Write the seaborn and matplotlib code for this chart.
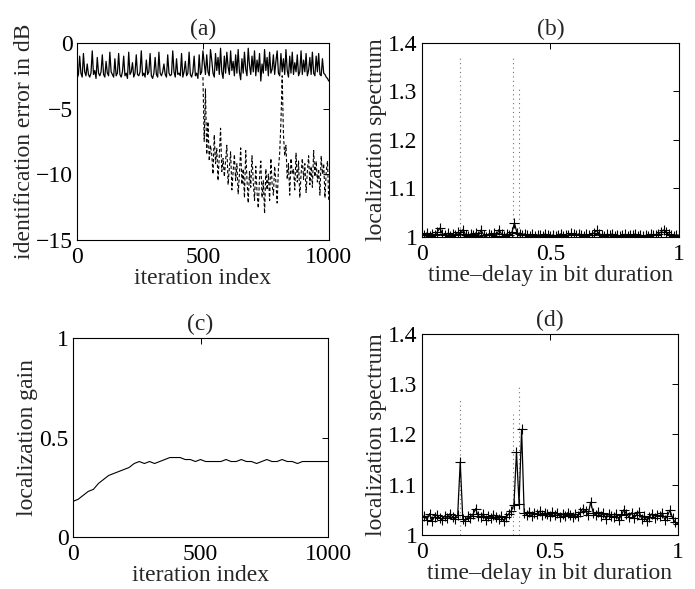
import numpy as np
import pandas as pd
import matplotlib
matplotlib.use("Agg")
import matplotlib.pyplot as plt
import seaborn as sns

# ---------------- data ----------------
# (a) identification error in dB, iterations 0..1000 step 5
iter_a = list(range(0, 1001, 5))
err_solid = [-2.7,-2.4,-1.0,-2.3,-2.6,-0.8,-2.2,-2.5,-1.6,-2.4,
             -2.6,-2.3,-0.6,-2.4,-2.1,-2.7,-1.1,-2.3,-2.5,-2.2,
             -0.9,-2.4,-2.6,-1.4,-2.3,-2.5,-0.7,-2.2,-2.4,-2.6,
             -1.2,-2.5,-2.3,-0.8,-2.4,-2.6,-2.2,-1.0,-2.5,-2.3,
             -2.7,-0.7,-2.4,-2.2,-1.5,-2.6,-2.3,-0.9,-2.4,-2.5,
             -2.2,-0.6,-2.5,-2.3,-2.6,-1.3,-2.4,-2.2,-0.8,-2.5,
             -2.7,-2.3,-1.1,-2.4,-2.6,-0.7,-2.3,-2.5,-2.2,-1.6,
             -2.4,-2.6,-0.9,-2.3,-2.5,-2.4,-0.6,-2.2,-2.6,-1.2,
             -2.4,-2.3,-2.5,-0.8,-2.6,-2.2,-1.4,-2.5,-2.3,-0.7,
             -2.4,-2.6,-2.2,-1.0,-2.5,-2.3,-2.7,-0.9,-2.4,-2.2,
             -0.6,-1.5,-2.4,-0.9,-2.2,-2.5,-0.5,-1.3,-2.3,-2.6,
             -0.8,-2.1,-1.1,-2.4,-0.4,-2.2,-2.7,-1.0,-2.3,-0.7,
             -1.8,-2.4,-0.6,-2.1,-1.4,-2.5,-0.9,-2.3,-0.5,-2.2,
             -2.8,-1.2,-2.3,-0.7,-2.0,-2.5,-0.4,-1.7,-2.4,-1.0,
             -2.2,-0.6,-2.5,-1.3,-2.2,-0.8,-2.9,-1.6,-2.3,-0.5,
             -2.1,-1.1,-2.5,-0.7,-2.3,-2.0,-0.9,-2.4,-1.4,-0.6,
             -2.3,-2.5,-0.8,-2.2,-1.2,-2.4,-0.5,-2.1,-2.6,-1.0,
             -2.3,-0.7,-2.4,-1.5,-2.2,-0.9,-2.5,-2.2,-0.6,-2.4,
             -1.3,-2.2,-0.8,-2.5,-2.1,-1.1,-2.4,-0.7,-2.3,-2.5,
             -1.0,-2.2,-0.8,-2.4,-2.5,-1.2,-2.3,-2.4,-2.6,-2.7,
             -2.9]
iter_b = list(range(500, 1001, 5))
err_dashed = [-2.6,-7.5,-3.5,-8.5,-6.0,-9.0,-7.8,-8.5,-10.0,-7.0,
              -9.2,-8.0,-10.5,-8.6,-6.5,-9.8,-8.8,-10.2,-9.0,-7.8,
              -10.8,-9.5,-8.3,-11.2,-9.8,-8.5,-10.5,-9.2,-11.5,-10.0,
              -8.0,-10.8,-9.6,-11.8,-8.2,-10.4,-12.2,-9.8,-11.0,-8.6,
              -10.6,-12.0,-9.4,-11.4,-12.6,-10.2,-9.0,-11.8,-10.5,-13.0,
              -9.6,-11.2,-10.0,-12.0,-8.8,-10.8,-11.6,-9.4,-10.6,-12.2,
              -9.6,-8.4,-6.0,-2.5,-7.0,-8.6,-7.8,-10.4,-9.2,-11.6,
              -8.8,-10.0,-9.6,-11.2,-8.4,-10.6,-9.0,-11.8,-10.0,-8.8,
              -10.4,-9.2,-11.4,-9.8,-8.6,-10.8,-9.4,-11.0,-8.2,-10.2,
              -9.0,-10.6,-9.6,-11.6,-8.6,-10.0,-9.2,-11.8,-9.8,-9.0,
              -12.0]

# (c) localization gain, iterations 0..1000 step 20
iter_c = list(range(0, 1001, 20))
gain = [0.18,0.19,0.21,0.23,0.24,0.27,0.29,0.31,0.32,0.33,
        0.34,0.35,0.37,0.38,0.37,0.38,0.37,0.38,0.39,0.40,
        0.40,0.40,0.39,0.39,0.38,0.39,0.38,0.38,0.38,0.38,
        0.39,0.38,0.38,0.39,0.38,0.38,0.37,0.38,0.39,0.38,
        0.38,0.39,0.38,0.38,0.37,0.38,0.38,0.38,0.38,0.38,
        0.38]

# (b),(d) localization spectrum vs time-delay, 0..1 step 0.01
delay = [round(i * 0.01, 2) for i in range(101)]
spec_b = [1.005,1.003,1.008,1.002,1.006,1.004,1.010,1.018,1.006,1.003,
          1.007,1.002,1.005,1.004,1.009,1.006,1.015,1.004,1.001,1.006,
          1.003,1.008,1.002,1.014,1.004,1.000,1.006,1.003,1.007,1.002,
          1.015,1.005,1.001,1.006,1.004,1.009,1.028,1.008,1.006,1.004,
          1.006,1.003,1.002,1.005,1.001,1.003,1.004,1.002,1.006,1.003,
          1.002,1.004,1.001,1.003,1.006,1.002,1.004,1.003,1.007,1.005,
          1.003,1.006,1.004,1.002,1.005,1.003,1.004,1.008,1.013,1.006,
          1.004,1.002,1.005,1.003,1.006,1.002,1.004,1.001,1.003,1.005,
          1.002,1.004,1.003,1.006,1.002,1.004,1.001,1.003,1.002,1.005,
          1.003,1.004,1.006,1.010,1.014,1.009,1.005,1.003,1.002,1.004,
          1.003]
spec_d = [1.035,1.038,1.030,1.042,1.028,1.036,1.040,1.033,1.030,1.038,
          1.034,1.042,1.036,1.031,1.039,1.145,1.032,1.028,1.037,1.034,
          1.041,1.052,1.038,1.035,1.042,1.030,1.037,1.033,1.040,1.036,
          1.031,1.038,1.027,1.035,1.042,1.048,1.060,1.165,1.062,1.210,
          1.044,1.040,1.046,1.038,1.043,1.041,1.047,1.039,1.044,1.042,
          1.038,1.045,1.040,1.043,1.036,1.041,1.037,1.044,1.039,1.035,
          1.042,1.038,1.046,1.052,1.048,1.040,1.065,1.044,1.039,1.046,
          1.037,1.043,1.032,1.041,1.038,1.036,1.042,1.030,1.039,1.050,
          1.041,1.036,1.044,1.034,1.040,1.046,1.031,1.038,1.028,1.035,
          1.042,1.033,1.040,1.037,1.044,1.030,1.038,1.049,1.034,1.025,
          1.022]

true_delays = [0.15, 0.355, 0.378]
dotted_top_b = [1.375, 1.37, 1.31]
dotted_top_d = [1.27, 1.24, 1.30]

# ---------------- figure ----------------
sns.set_theme(style="white")
plt.rcParams['font.family'] = ['Liberation Serif', 'DejaVu Serif']
FS = 17

fig = plt.figure(figsize=(6.95, 5.89), dpi=100)
ax_a = fig.add_axes([0.111, 0.593, 0.362, 0.334])
ax_b = fig.add_axes([0.607, 0.598, 0.370, 0.329])
ax_c = fig.add_axes([0.105, 0.088, 0.367, 0.338])
ax_d = fig.add_axes([0.607, 0.092, 0.368, 0.341])

def style(ax, title, xlabel, ylabel):
    ax.set_title(title, fontsize=FS, pad=6)
    ax.set_xlabel(xlabel, fontsize=FS, labelpad=0)
    ax.set_ylabel(ylabel, fontsize=FS, labelpad=1)
    ax.tick_params(direction='in', length=4, width=0.7, labelsize=FS,
                   top=True, right=True, colors='black')
    ax.tick_params(axis='x', pad=5)
    ax.tick_params(axis='y', pad=3)
    for s in ax.spines.values():
        s.set_color('black')
        s.set_linewidth(0.8)

# (a)
df_a = pd.DataFrame({"it": iter_a, "err": err_solid})
df_a2 = pd.DataFrame({"it": iter_b, "err": err_dashed})
sns.lineplot(data=df_a, x="it", y="err", ax=ax_a, color='black', lw=0.9)
sns.lineplot(data=df_a2, x="it", y="err", ax=ax_a, color='black', lw=0.8,
             linestyle=(0, (3, 2)))
ax_a.set_xlim(0, 1000)
ax_a.set_ylim(-15, 0)
ax_a.set_xticks([0, 500, 1000])
ax_a.set_yticks([-15, -10, -5, 0])
ax_a.set_yticklabels(['\u221215', '\u221210', '\u22125', '0'])
style(ax_a, "(a)", "iteration index", "identification error in dB")

# (b)
df_b = pd.DataFrame({"d": delay, "s": spec_b})
ax_b.vlines(true_delays, 1.0, dotted_top_b, colors='0.45', linestyles=(0, (1, 3)), lw=0.8)
sns.lineplot(data=df_b, x="d", y="s", ax=ax_b, color='black', lw=0.9,
             marker='+', markersize=7, markeredgewidth=0.8, markeredgecolor='black')
ax_b.set_xlim(0, 1)
ax_b.set_ylim(1.0, 1.4)
ax_b.set_xticks([0, 0.5, 1])
ax_b.set_xticklabels(['0', '0.5', '1'])
ax_b.set_yticks([1.0, 1.1, 1.2, 1.3, 1.4])
ax_b.set_yticklabels(['1', '1.1', '1.2', '1.3', '1.4'])
style(ax_b, "(b)", "time\u2013delay in bit duration", "localization spectrum")

# (c)
df_c = pd.DataFrame({"it": iter_c, "g": gain})
sns.lineplot(data=df_c, x="it", y="g", ax=ax_c, color='black', lw=0.8)
ax_c.set_xlim(0, 1000)
ax_c.set_ylim(0, 1)
ax_c.set_xticks([0, 500, 1000])
ax_c.set_yticks([0, 0.5, 1])
ax_c.set_yticklabels(['0', '0.5', '1'])
style(ax_c, "(c)", "iteration index", "localization gain")

# (d)
df_d = pd.DataFrame({"d": delay, "s": spec_d})
ax_d.vlines(true_delays, 1.0, dotted_top_d, colors='0.45', linestyles=(0, (1, 3)), lw=0.8)
sns.lineplot(data=df_d, x="d", y="s", ax=ax_d, color='black', lw=0.9,
             marker='+', markersize=7, markeredgewidth=0.8, markeredgecolor='black')
ax_d.set_xlim(0, 1)
ax_d.set_ylim(1.0, 1.4)
ax_d.set_xticks([0, 0.5, 1])
ax_d.set_xticklabels(['0', '0.5', '1'])
ax_d.set_yticks([1.0, 1.1, 1.2, 1.3, 1.4])
ax_d.set_yticklabels(['1', '1.1', '1.2', '1.3', '1.4'])
style(ax_d, "(d)", "time\u2013delay in bit duration", "localization spectrum")

fig.savefig("out.png", dpi=100, facecolor='white')
